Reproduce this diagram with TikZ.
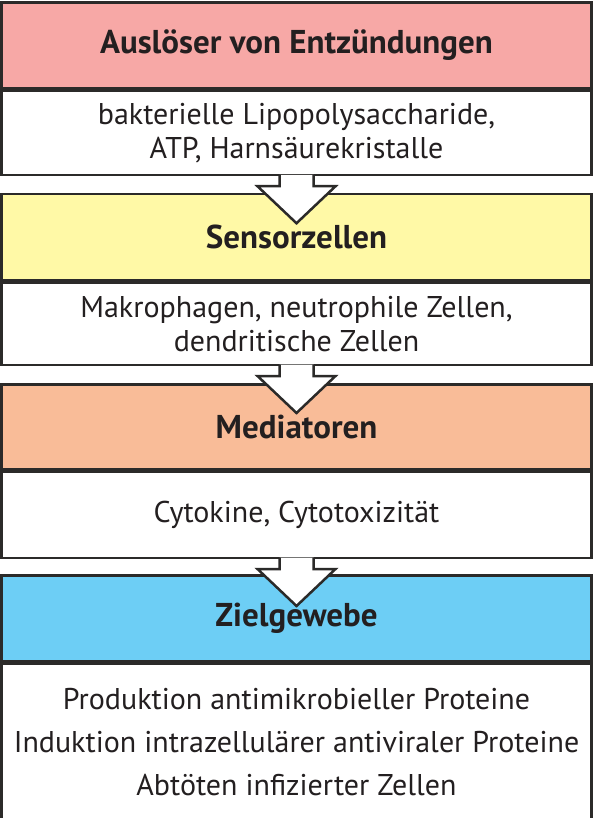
\documentclass[tikz,border=0pt]{standalone}
\usepackage{fontspec}
\setmainfont{PT Sans}
\usetikzlibrary{positioning, calc}

\definecolor{triggerred}{HTML}{F7A8A6}
\definecolor{sensoryellow}{HTML}{FFF9A6}
\definecolor{mediatororange}{HTML}{F9BC98}
\definecolor{targetblue}{HTML}{6DCEF5}
\definecolor{linegray}{HTML}{2B2A29}
\definecolor{textgray}{HTML}{231F20}

\tikzset{
  headbox/.style={draw=linegray, line width=2.5pt, rectangle, minimum width=590pt, minimum height=86pt, anchor=north, inner sep=0pt, text=textgray, font=\bfseries\fontsize{33}{36}\selectfont},
  bodybox/.style={draw=linegray, line width=2.5pt, rectangle, fill=white, minimum width=590pt, anchor=north, inner sep=0pt, align=center, text=textgray},
  flowarrow/.style={fill=white, draw=linegray, line width=2.5pt, line join=miter}
}

\begin{document}
\begin{tikzpicture}[x=1pt, y=1pt]
\useasboundingbox (0,0) rectangle (593,-818);

% Stufe 1
\node[headbox, fill=triggerred] (h1) at (296.5,-1.25) {Auslöser von Entzündungen};
\node[bodybox, minimum height=84pt, font=\fontsize{30}{34}\selectfont] (b1) at (h1.south)
   {bakterielle Lipopolysaccharide,\\ATP, Harnsäurekristalle};

% Stufe 2
\node[headbox, fill=sensoryellow] (h2) at (296.5,-193) {Sensorzellen};
\node[bodybox, minimum height=82pt, font=\fontsize{30}{34}\selectfont] (b2) at (h2.south)
   {Makrophagen, neutrophile Zellen,\\dendritische Zellen};

% Stufe 3
\node[headbox, fill=mediatororange, minimum height=85pt] (h3) at (296.5,-383) {Mediatoren};
\node[bodybox, minimum height=86pt, font=\fontsize{30}{34}\selectfont] (b3) at (h3.south)
   {Cytokine, Cytotoxizität};

% Stufe 4
\node[headbox, fill=targetblue] (h4) at (296.5,-574) {Zielgewebe};
\node[bodybox, minimum height=157pt, font=\fontsize{30}{43}\selectfont] (b4) at (h4.south)
   {Produktion antimikrobieller Proteine\\Induktion intrazellulärer antiviraler Proteine\\Abtöten infizierter Zellen};

% Pfeile
\foreach \from in {b1,b2,b3}
  \draw[flowarrow] ($(\from.south)+(-17,1.3)$) -- ++(0,-11.3) -- ++(-22,0)
     -- ($(\from.south)+(0,-47)$) -- ($(\from.south)+(39,-10)$) -- ++(-22,0) -- ++(0,11.3);
\end{tikzpicture}
\end{document}
